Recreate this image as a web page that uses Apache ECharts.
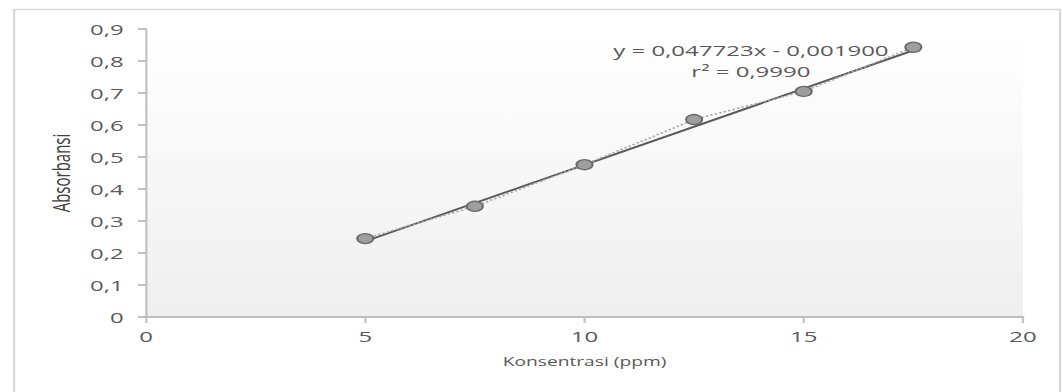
<!DOCTYPE html>
<html lang="en">
<head>
    <meta charset="UTF-8">
    <title>Kurva baku</title>
    <style>
        html, body { margin: 0; padding: 0; background: #fff; overflow: hidden; }
        /* the source picture is stretched sideways, so draw narrow and widen */
        #main { width: 664px; height: 392px; transform: scaleX(1.5994); transform-origin: 0 0; }
    </style>
</head>
<body>
<script src="https://cdn.jsdelivr.net/npm/echarts@6/dist/echarts.min.js"></script>
<div id="main"></div>

<script type="text/javascript">
    var konsentrasi = [5, 7.5, 10, 12.5, 15, 17.5];
    var absorbansi = [0.245, 0.346, 0.476, 0.617, 0.705, 0.843];
    // trendline from the printed equation
    var slope = 0.047723, intercept = -0.001900;
    var eqText = ['y = 0,047723x - 0,001900', 'r² = 0,9990'];

    var pts = konsentrasi.map(function (x, i) { return [x, absorbansi[i]]; });
    var xs = [konsentrasi[0], konsentrasi[konsentrasi.length - 1]];
    var trend = xs.map(function (x) { return [x, slope * x + intercept]; });

    var comma = function (v) { return String(v).replace('.', ','); };
    var tickFont = { color: '#595959', fontSize: 15, fontFamily: 'Open Sans' };

    var myChart = echarts.init(document.getElementById('main'), null, { renderer: 'svg' });
    var option = {
        backgroundColor: '#fff',
        animation: false,
        grid: {
            left: 91.3, right: 24.4, top: 29, bottom: 75,
            show: true,
            borderWidth: 0,
            backgroundColor: new echarts.graphic.LinearGradient(0, 0, 0, 1, [
                { offset: 0, color: '#ffffff' },
                { offset: 1, color: '#efefef' }
            ])
        },
        xAxis: {
            type: 'value', min: 0, max: 20, interval: 5,
            name: 'Konsentrasi (ppm)', nameLocation: 'middle', nameGap: 38,
            nameTextStyle: { color: '#595959', fontSize: 12, fontFamily: 'Open Sans' },
            axisLine: { lineStyle: { color: '#bfbfbf', width: 2 } },
            axisTick: { show: true, length: 6, lineStyle: { color: '#bfbfbf', width: 1.3 } },
            axisLabel: Object.assign({ margin: 12 }, tickFont),
            splitLine: { show: false }
        },
        yAxis: {
            type: 'value', min: 0, max: 0.9, interval: 0.1,
            name: 'Absorbansi', nameLocation: 'middle', nameGap: 45,
            nameTextStyle: { color: '#404040', fontSize: 15, fontFamily: 'Open Sans' },
            axisLine: { show: true, lineStyle: { color: '#bfbfbf', width: 1.3 } },
            axisTick: { show: true, length: 5, lineStyle: { color: '#bfbfbf', width: 2 } },
            axisLabel: Object.assign({ margin: 14, formatter: function (v) { return comma(Math.round(v * 10) / 10); } }, tickFont),
            splitLine: { show: false }
        },
        graphic: [
            {
                type: 'rect', left: 6.3, top: 7, z: -10,
                shape: { width: 654, height: 400 },
                style: { fill: 'none', stroke: '#d9d9d9', lineWidth: 1.5 }
            },
            {
                type: 'text', x: 469.5, y: 50.5,
                style: { text: eqText[0], fill: '#595959', font: '15px "Open Sans"', align: 'center', verticalAlign: 'middle' }
            },
            {
                type: 'text', x: 469.5, y: 71,
                style: { text: eqText[1], fill: '#595959', font: '15px "Open Sans"', align: 'center', verticalAlign: 'middle' }
            }
        ],
        series: [
            {
                type: 'line', data: trend, symbol: 'none', z: 3,
                lineStyle: { color: '#595959', width: 1.8 }
            },
            {
                type: 'line', data: pts, z: 4,
                symbol: 'circle', symbolSize: 10,
                lineStyle: { color: '#a6a6a6', width: 1.5, type: [1.5, 1.5] },
                itemStyle: { color: '#9e9e9e', borderColor: '#6a6a6a', borderWidth: 1.3 }
            }
        ]
    };
    myChart.setOption(option);
</script>
</body>
</html>
